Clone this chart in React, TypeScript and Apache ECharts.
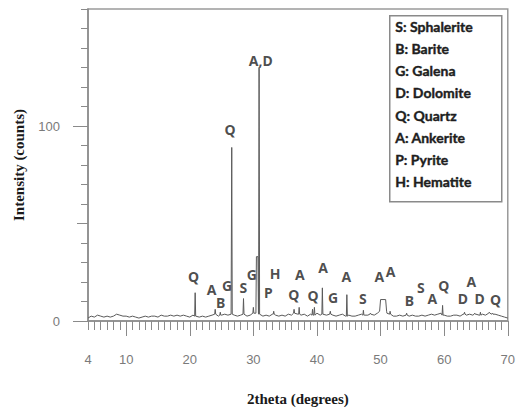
import React, { useEffect, useRef } from 'react';
import * as echarts from 'echarts';

// ---- data ----
const thetaStart = 4;
const thetaStep = 0.5;
// background counts every 0.5 deg from 4 to 70
const baseline = [
  1.5, 2.5, 2.0, 3.0, 2.5, 2.0, 2.5, 2.0, 2.5, 3.5, // 4 - 8.5
  3.0, 2.5, 2.5, 2.0, 2.5, 2.0, 1.5, 2.0, 2.5, 2.0, // 9 - 13.5
  2.5, 2.5, 2.0, 3.0, 2.5, 2.5, 3.0, 2.5, 3.0, 2.5, // 14 - 18.5
  3.0, 2.5, 2.0, 3.0, 2.5, 2.0, 2.5, 2.0, 2.5, 3.0, // 19 - 23.5
  3.5, 2.5, 3.0, 3.5, 3.0, 3.5, 3.0, 2.5, 3.0, 3.5, // 24 - 28.5
  2.5, 3.0, 4.0, 4.0, 3.5, 2.5, 3.0, 2.5, 3.5, 3.0, // 29 - 33.5
  2.5, 3.0, 2.5, 3.5, 3.0, 4.0, 3.5, 3.0, 3.5, 2.5, // 34 - 38.5
  3.5, 3.0, 4.0, 3.0, 3.5, 3.0, 3.5, 3.0, 2.5, 3.0, // 39 - 43.5
  3.5, 2.5, 3.0, 2.5, 2.5, 3.0, 3.5, 3.0, 3.0, 3.5, // 44 - 48.5
  3.0, 4.0, 5.0, 5.0, 4.0, 3.5, 2.5, 2.5, 3.0, 2.5, // 49 - 53.5
  3.0, 2.5, 3.0, 2.5, 2.5, 3.0, 2.5, 3.0, 3.5, 3.0, // 54 - 58.5
  3.5, 4.0, 3.0, 2.5, 2.5, 3.0, 3.0, 2.5, 3.5, 3.0, // 59 - 63.5
  3.5, 3.0, 3.5, 3.0, 3.5, 3.0, 4.0, 3.5, 3.5, 3.0, // 64 - 68.5
  2.5, 2.0, 1.5                                      // 69 - 70
];

// diffraction peaks
const peakTheta =        [20.85, 24.0, 24.8, 26.6, 28.45, 30.0, 30.6, 30.9, 33.2, 36.4, 37.2, 39.3, 39.6, 40.85, 42.1, 44.7, 47.3, 48.4, 50.4, 51.5, 54.1, 59.75, 63.2, 64.8, 65.7, 67.1, 67.6];
const peakHeight =       [14.5,  6,    4.5,  89,   11.5,  7,    33,   130,  5,    6,    7,    6,    7,    17,    5,    13.5, 5.5,  4,    11,   5,    4,    8,     4.5,  4,    4.5,  4.5,  4];
const peakHalfWidth =    [0.08,  0.08, 0.08, 0.08, 0.08,  0.08, 0.2,  0.08, 0.08, 0.08, 0.08, 0.08, 0.08, 0.08,  0.08, 0.08, 0.08, 0.08, 0.55, 0.08, 0.08, 0.08,  0.08, 0.08, 0.08, 0.08, 0.08];
const peakTopHalfWidth = [0,     0,    0,    0,    0,     0,    0.12, 0,    0,    0,    0,    0,    0,    0,     0,    0,    0,    0,    0.4,  0,    0,    0,     0,    0,    0,    0,    0];

// phase annotations
const labelText =  ['Q',   'A',   'B',  'G',   'S',   'G',   'P',   'H',   'Q',   'A',   'Q',   'A',   'G',   'A',   'S',   'A',   'A',   'B',   'S',   'A',   'Q',   'D',   'A',   'D',   'Q',   'Q',   'A,D'];
const labelTheta = [20.58, 23.44, 24.85, 25.85, 28.44, 29.76, 32.36, 33.4,  36.37, 37.31, 39.39, 40.96, 42.52, 44.62, 47.21, 49.82, 51.59, 54.52, 56.35, 58.16, 59.94, 62.96, 64.26, 65.57, 68.08, 26.32, 31.17];
const labelCount = [22.6,  16.2,  9.5,  18.4,  17.0,  24.0,  14.4,  24.6,  13.8,  24.0,  13.3,  27.4,  12.1,  22.6,  11.6,  23.0,  25.2,  10.7,  17.2,  11.6,  18.4,  11.6,  20.1,  11.6,  11.1,  98.3,  133.5];

const legendItems = ['S: Sphalerite', 'B: Barite', 'G: Galena', 'D: Dolomite', 'Q: Quartz', 'A: Ankerite', 'P: Pyrite', 'H: Hematite'];
const xTickLabels = [4, 10, 20, 30, 40, 50, 60, 70];
const xMajorTicks = [10, 20, 30, 40, 50, 60, 70];
const yTickLabels = [0, 100];
const yMidTicks = [50];

function buildPattern(): [number, number][] {
  const pts: [number, number][] = [];
  baseline.forEach((v, i) => {
    const t = thetaStart + i * thetaStep;
    const inside = peakTheta.some((p, j) => Math.abs(t - p) <= peakHalfWidth[j]);
    if (!inside) pts.push([t, v]);
  });
  peakTheta.forEach((p, j) => {
    const b = baseline[Math.round((p - thetaStart) / thetaStep)];
    const hw = peakHalfWidth[j];
    const tw = peakTopHalfWidth[j];
    const h = peakHeight[j];
    pts.push([p - hw, b]);
    if (tw > 0) {
      pts.push([p - tw, h]);
      pts.push([p + tw, h]);
    } else {
      pts.push([p, h]);
    }
    pts.push([p + hw, b]);
  });
  pts.sort((a, b) => a[0] - b[0]);
  return pts;
}

export default function App() {
  const ref = useRef<HTMLDivElement>(null);
  useEffect(() => {
    if (!ref.current) return;
    const chart = echarts.init(ref.current, null, { renderer: 'svg' });
    const axisColor = '#8a8a8a';
    const tickLabel = { color: '#7a7a7a', fontSize: 13, fontFamily: 'Liberation Sans' };
    const xBase = { type: 'value', min: 4, max: 70, gridIndex: 0, position: 'bottom', splitLine: { show: false } };
    const yBase = { type: 'value', min: 0, max: 160, gridIndex: 0, position: 'left', splitLine: { show: false } };
    const legendGraphics: any[] = [
      { type: 'rect', left: 389, top: 15, shape: { width: 112, height: 186 }, style: { fill: '#fff', stroke: '#8a8a8a', lineWidth: 1.5 } },
      ...legendItems.map((s, i) => ({
        type: 'text', left: 395, top: 28 + i * 22.2 - 9,
        style: { text: s, fill: '#1e1e1e', font: 'bold 14px Lato', stroke: '#1e1e1e', lineWidth: 0.4 },
      })),
    ];
    chart.setOption({
      animation: false,
      grid: { left: 88, right: 8, top: 9, bottom: 90, show: true, borderColor: '#9a9a9a', borderWidth: 1.5 },
      xAxis: [
        {
          ...xBase, interval: 1,
          name: '2theta (degrees)', nameLocation: 'middle', nameGap: 70,
          nameTextStyle: { fontFamily: 'Liberation Serif', fontWeight: 'bold', fontSize: 15, color: '#1a1a1a' },
          axisLine: { show: true, onZero: false, lineStyle: { color: axisColor, width: 1.5 } },
          axisTick: { show: true, length: 9, lineStyle: { color: axisColor } },
          axisLabel: { ...tickLabel, customValues: xTickLabels, margin: 32 },
        },
        {
          ...xBase,
          axisLine: { show: false },
          axisTick: { show: true, length: 15, customValues: xMajorTicks, lineStyle: { color: axisColor } },
          axisLabel: { show: false },
        },
      ],
      yAxis: [
        {
          ...yBase, interval: 10,
          name: 'Intensity (counts)', nameLocation: 'middle', nameGap: 62,
          nameTextStyle: { fontFamily: 'Liberation Serif', fontWeight: 'bold', fontSize: 15, color: '#1a1a1a' },
          axisLine: { show: true, onZero: false, lineStyle: { color: axisColor, width: 1.5 } },
          axisTick: { show: true, length: 7, lineStyle: { color: axisColor } },
          axisLabel: { ...tickLabel, customValues: yTickLabels, margin: 28 },
        },
        {
          ...yBase,
          axisLine: { show: false },
          axisTick: { show: true, length: 11, customValues: yMidTicks, lineStyle: { color: axisColor } },
          axisLabel: { show: false },
        },
        {
          ...yBase,
          axisLine: { show: false },
          axisTick: { show: true, length: 15, customValues: yTickLabels, lineStyle: { color: axisColor } },
          axisLabel: { show: false },
        },
      ],
      series: [
        {
          type: 'line', xAxisIndex: 0, yAxisIndex: 0,
          data: buildPattern(), symbol: 'none', silent: true,
          lineStyle: { color: '#5a5a5a', width: 1 },
        },
        {
          type: 'scatter', xAxisIndex: 0, yAxisIndex: 0, silent: true,
          symbolSize: 1, itemStyle: { color: 'rgba(0,0,0,0)' },
          data: labelText.map((s, i) => ({ name: s, value: [labelTheta[i], labelCount[i]] })),
          label: {
            show: true, position: 'inside', formatter: (p: any) => p.name,
            color: '#1e1e1e', fontFamily: 'Noto Sans', fontWeight: 'bold', fontSize: 14,
          },
        },
      ],
      graphic: legendGraphics,
    });
    return () => chart.dispose();
  }, []);
  return <div ref={ref} style={{ position: 'fixed', left: 0, top: 0, width: 518, height: 411, background: '#fff' }} />;
}
